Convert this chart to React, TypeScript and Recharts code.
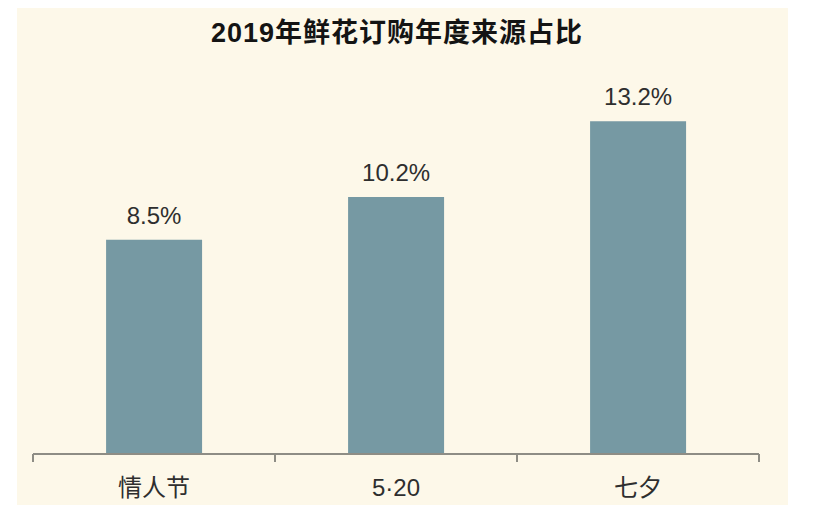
import React from 'react';
import { BarChart, Bar, XAxis, YAxis, LabelList } from 'recharts';

const title = '2019年鲜花订购年度来源占比';
const categories = ['情人节', '5·20', '七夕'];
const shares = [8.5, 10.2, 13.2];
const yDomain: [number, number] = [0, 15];

const data = categories.map((name, i) => ({ name, value: shares[i] }));

const FONT = '"Liberation Sans", Arial, "Noto Sans CJK SC", sans-serif';
const AXIS_COLOR = '#8e8d85';

const BoundaryTick = (props: any) => {
  const { x, y, payload, index, visibleTicksCount } = props;
  const off = payload && payload.offset ? payload.offset : 0;
  const isLast = index === (visibleTicksCount ?? categories.length) - 1;
  return (
    <g>
      <line x1={x - off} x2={x - off} y1={y} y2={y + 8} stroke={AXIS_COLOR} strokeWidth={2} />
      {isLast && (
        <line x1={x + off} x2={x + off} y1={y} y2={y + 8} stroke={AXIS_COLOR} strokeWidth={2} />
      )}
      <text x={x} y={y + 42} textAnchor="middle" fontSize={24} fill="#2e2e2e" fontFamily={FONT}>
        {payload.value}
      </text>
    </g>
  );
};

export default function App() {
  return (
    <div style={{ position: 'absolute', left: 0, top: 0, width: 825, height: 522, background: '#ffffff', overflow: 'hidden' }}>
      <div style={{ position: 'absolute', left: 17, top: 8, width: 771, height: 497, background: '#fdf8e9' }} />
      <div
        style={{
          position: 'absolute',
          left: 0,
          top: 20,
          width: 794,
          textAlign: 'center',
          fontFamily: FONT,
          fontWeight: 'bold',
          fontSize: 27,
          lineHeight: '27px',
          letterSpacing: 1,
          color: '#141414',
        }}
      >
        {title}
      </div>
      <div style={{ position: 'absolute', left: 0, top: 0 }}>
        <BarChart
          width={825}
          height={522}
          data={data}
          margin={{ top: 76, right: 66, left: 33, bottom: 18 }}
          barCategoryGap="30.2%"
        >
          <YAxis hide domain={yDomain} />
          <XAxis
            dataKey="name"
            height={50}
            axisLine={{ stroke: AXIS_COLOR, strokeWidth: 2 }}
            tickLine={false}
            tickSize={0}
            tickMargin={0}
            interval={0}
            tick={<BoundaryTick />}
          />
          <Bar dataKey="value" fill="#7699a3" isAnimationActive={false}>
            <LabelList
              dataKey="value"
              position="top"
              offset={16}
              formatter={(v: any) => `${v}%`}
              style={{ fontSize: 24, fill: '#2e2e2e', fontFamily: FONT }}
            />
          </Bar>
        </BarChart>
      </div>
    </div>
  );
}
